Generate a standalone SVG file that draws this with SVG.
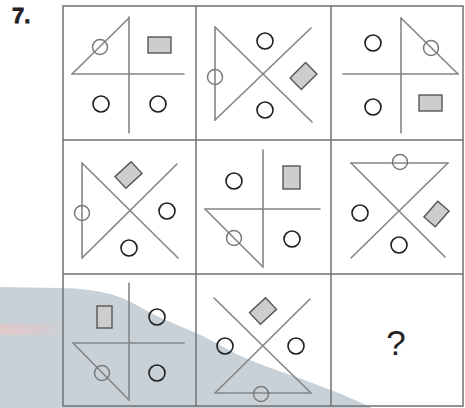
<svg xmlns="http://www.w3.org/2000/svg" width="465" height="408" viewBox="0 0 465 408">
  <defs>
    <style>
      .grid { stroke: #707070; stroke-width: 1.5; fill: none; }
      .fig { stroke: #858585; stroke-width: 1.6; fill: none; stroke-linecap: round; }
      .oc { stroke: #7a7a7a; stroke-width: 1.5; fill: none; }
      .fc { stroke: #1e1e1e; stroke-width: 1.6; fill: none; }
      .sh { fill: #cdcdcd; stroke: #555; stroke-width: 1.4; }
      .q { font-family: "Liberation Sans", Arial, sans-serif; font-size: 35px; fill: #222; }
      .num { font-family: "Liberation Sans", Arial, sans-serif; font-size: 22px; font-weight: bold; fill: #222; stroke: #222; stroke-width: 0.8; }
    </style>
    <linearGradient id="red" x1="0" y1="0" x2="1" y2="0">
      <stop offset="0" stop-color="#e6c6c6" stop-opacity="0.8"/>
      <stop offset="0.6" stop-color="#e6c6c6" stop-opacity="0.5"/>
      <stop offset="1" stop-color="#e6c6c6" stop-opacity="0"/>
    </linearGradient>
  </defs>
  <rect width="465" height="408" fill="#ffffff"/>
  <g id="swoosh">
    <path d="M0,287 L60,288 C100,289 120,295 140,307 C165,322 195,330 225,348 C255,366 320,382 372,408 L0,408 Z" fill="#c9d1d8"/>
    <rect x="0" y="324" width="62" height="11" fill="url(#red)"/>
  </g>
  <text class="num" x="12" y="23">7.</text>
  <g id="grid">
    <rect class="grid" x="63" y="6" width="400" height="400"/>
    <line class="grid" x1="196" y1="6" x2="196" y2="406"/>
    <line class="grid" x1="331" y1="6" x2="331" y2="406"/>
    <line class="grid" x1="63" y1="140" x2="463" y2="140"/>
    <line class="grid" x1="63" y1="274" x2="463" y2="274"/>
  </g>
  <g id="cell1">
    <line class="fig" x1="129" y1="17" x2="129" y2="133"/>
    <line class="fig" x1="72" y1="74" x2="184" y2="74"/>
    <line class="fig" x1="72" y1="74" x2="129" y2="18"/>
    <circle class="oc" cx="100" cy="47" r="7.5"/>
    <rect class="sh" x="148" y="37" width="23" height="16"/>
    <circle class="fc" cx="101" cy="104" r="8"/>
    <circle class="fc" cx="158" cy="104" r="8"/>
  </g>
  <g id="cell2">
    <line class="fig" x1="215" y1="27" x2="215" y2="120"/>
    <line class="fig" x1="215" y1="27" x2="312" y2="122"/>
    <line class="fig" x1="215" y1="120" x2="311" y2="28"/>
    <circle class="oc" cx="215" cy="77" r="7.5"/>
    <circle class="fc" cx="265" cy="41" r="8"/>
    <circle class="fc" cx="265" cy="110" r="8"/>
    <rect class="sh" x="-11" y="-8" width="22" height="16" transform="translate(303.5,76) rotate(-45)"/>
  </g>
  <g id="cell3">
    <line class="fig" x1="401" y1="18" x2="401" y2="133"/>
    <line class="fig" x1="343" y1="74" x2="458" y2="74"/>
    <line class="fig" x1="401" y1="18" x2="458" y2="74"/>
    <circle class="oc" cx="431" cy="48" r="7.5"/>
    <circle class="fc" cx="373" cy="43" r="8"/>
    <circle class="fc" cx="373" cy="107" r="8"/>
    <rect class="sh" x="419" y="95" width="23" height="16"/>
  </g>
  <g id="cell4">
    <line class="fig" x1="82" y1="163" x2="82" y2="258"/>
    <line class="fig" x1="82" y1="163" x2="178" y2="258"/>
    <line class="fig" x1="82" y1="258" x2="177" y2="164"/>
    <circle class="oc" cx="82" cy="213" r="7.5"/>
    <rect class="sh" x="-11" y="-8" width="22" height="16" transform="translate(128.5,175) rotate(-43)"/>
    <circle class="fc" cx="167" cy="211" r="8"/>
    <circle class="fc" cx="129" cy="248" r="8"/>
  </g>
  <g id="cell5">
    <line class="fig" x1="263" y1="150" x2="263" y2="267"/>
    <line class="fig" x1="205" y1="209" x2="320" y2="209"/>
    <line class="fig" x1="205" y1="209" x2="263" y2="267"/>
    <circle class="oc" cx="234" cy="238" r="7.5"/>
    <circle class="fc" cx="234" cy="181" r="8"/>
    <rect class="sh" x="283" y="166" width="17" height="23"/>
    <circle class="fc" cx="292" cy="239" r="8"/>
  </g>
  <g id="cell6">
    <line class="fig" x1="351" y1="163" x2="448" y2="163"/>
    <line class="fig" x1="351" y1="163" x2="445" y2="257"/>
    <line class="fig" x1="448" y1="163" x2="351" y2="258"/>
    <circle class="oc" cx="400" cy="162" r="7.5"/>
    <circle class="fc" cx="360" cy="213" r="8"/>
    <circle class="fc" cx="399" cy="245" r="8"/>
    <rect class="sh" x="-10.5" y="-7.5" width="21" height="15" transform="translate(436.5,214) rotate(-49)"/>
  </g>
  <g id="cell7">
    <line class="fig" x1="129" y1="283" x2="129" y2="400"/>
    <line class="fig" x1="73" y1="343" x2="184" y2="343"/>
    <line class="fig" x1="73" y1="343" x2="129" y2="400"/>
    <circle class="oc" cx="102" cy="373" r="7.5"/>
    <rect class="sh" x="97" y="306" width="15" height="22"/>
    <circle class="fc" cx="157" cy="317" r="8"/>
    <circle class="fc" cx="157" cy="373" r="8"/>
  </g>
  <g id="cell8">
    <line class="fig" x1="214" y1="298" x2="311" y2="393"/>
    <line class="fig" x1="310" y1="299" x2="215" y2="393"/>
    <line class="fig" x1="215" y1="393" x2="311" y2="393"/>
    <circle class="oc" cx="261" cy="394" r="7.5"/>
    <circle class="fc" cx="225" cy="346" r="8"/>
    <circle class="fc" cx="296" cy="346" r="8"/>
    <rect class="sh" x="-11" y="-8" width="22" height="16" transform="translate(263,311) rotate(-43)"/>
  </g>
  <g id="cell9">
    <text class="q" x="396" y="355" text-anchor="middle">?</text>
  </g>
</svg>
